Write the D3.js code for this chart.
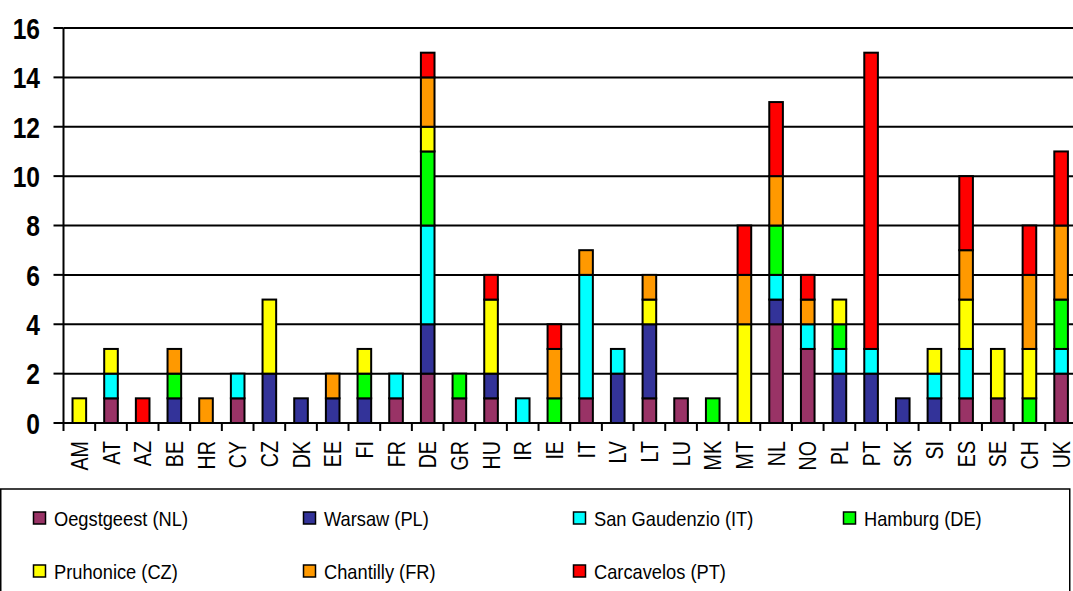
<!DOCTYPE html>
<html>
<head>
<meta charset="utf-8">
<script src="https://cdn.jsdelivr.net/npm/d3@7"></script>
<style>
  html, body { margin: 0; padding: 0; background: #fff; }
  svg { display: block; }
  text { font-family: "Liberation Sans", Arial, sans-serif; fill: #000; }
</style>
</head>
<body>
<svg id="chart" width="1073" height="591"></svg>
<script>
// Country codes along the x axis
const categories = ["AM","AT","AZ","BE","HR","CY","CZ","DK","EE","FI","FR","DE","GR","HU","IR","IE",
                    "IT","LV","LT","LU","MK","MT","NL","NO","PL","PT","SK","SI","ES","SE","CH","UK"];

// Counts per location, one value per country (stacked bottom to top in this order)
const oegstgeest   = [0,1,0,0,0,1,0,0,0,0,1,2,1,1,0,0,1,0,1,1,0,0,4,3,0,0,0,0,1,1,0,2];
const warsaw       = [0,0,0,1,0,0,2,1,1,1,0,2,0,1,0,0,0,2,3,0,0,0,1,0,2,2,1,1,0,0,0,0];
const sanGaudenzio = [0,1,0,0,0,1,0,0,0,0,1,4,0,0,1,0,5,1,0,0,0,0,1,1,1,1,0,1,2,0,0,1];
const hamburg      = [0,0,0,1,0,0,0,0,0,1,0,3,1,0,0,1,0,0,0,0,1,0,2,0,1,0,0,0,0,0,1,2];
const pruhonice    = [1,1,0,0,0,0,3,0,0,1,0,1,0,3,0,0,0,0,1,0,0,4,0,0,1,0,0,1,2,2,2,0];
const chantilly    = [0,0,0,1,1,0,0,0,1,0,0,2,0,0,0,2,1,0,1,0,0,2,2,1,0,0,0,0,2,0,3,3];
const carcavelos   = [0,0,1,0,0,0,0,0,0,0,0,1,0,1,0,1,0,0,0,0,0,2,3,1,0,12,0,0,3,0,2,3];

const seriesNames  = ["Oegstgeest (NL)","Warsaw (PL)","San Gaudenzio (IT)","Hamburg (DE)",
                      "Pruhonice (CZ)","Chantilly (FR)","Carcavelos (PT)"];
const seriesValues = [oegstgeest, warsaw, sanGaudenzio, hamburg, pruhonice, chantilly, carcavelos];
const seriesColors = ["#993366","#333399","#00FFFF","#00FF00","#FFFF00","#FF9900","#FF0000"];

const yTicks = [0,2,4,6,8,10,12,14,16];

// Build a row-per-country table for d3.stack
const keys = seriesNames;
const table = categories.map((c, i) => {
  const row = { country: c };
  keys.forEach((k, j) => { row[k] = seriesValues[j][i]; });
  return row;
});
const stacked = d3.stack().keys(keys)(table);

const svg = d3.select("#chart");

// Plot geometry
const plotLeft = 63.5, plotTop = 28, plotBottom = 423;
const step = 31.67;
const plotRight = plotLeft + step * categories.length;

const x = d3.scaleBand().domain(categories).range([plotLeft, plotRight]).padding(0);
const y = d3.scaleLinear().domain([0, 16]).range([plotBottom, plotTop]);
const barW = x.bandwidth() * 0.43;
const narrow = 0.82;

// Horizontal gridlines
svg.append("g")
  .selectAll("line")
  .data(yTicks)
  .join("line")
  .attr("x1", plotLeft).attr("x2", plotRight)
  .attr("y1", d => y(d)).attr("y2", d => y(d))
  .attr("stroke", "#000").attr("stroke-width", 2);

// Y axis: line, outward ticks and labels
const yAxis = svg.append("g");
yAxis.append("line")
  .attr("x1", plotLeft).attr("x2", plotLeft)
  .attr("y1", y(16)).attr("y2", y(0) + 8)
  .attr("stroke", "#000").attr("stroke-width", 2);
yAxis.selectAll("line.tick")
  .data(yTicks)
  .join("line").attr("class", "tick")
  .attr("x1", plotLeft - 10).attr("x2", plotLeft)
  .attr("y1", d => y(d)).attr("y2", d => y(d))
  .attr("stroke", "#000").attr("stroke-width", 2);
yAxis.selectAll("text")
  .data(yTicks)
  .join("text")
  .attr("transform", d => `translate(40,${y(d)}) scale(${narrow},1)`)
  .attr("text-anchor", "end")
  .attr("dy", "0.36em")
  .attr("font-size", 30)
  .attr("font-weight", "bold")
  .text(d => d);

// X axis: ticks between categories and rotated labels
const xAxis = svg.append("g");
xAxis.selectAll("line")
  .data(d3.range(1, categories.length + 1))
  .join("line")
  .attr("x1", i => plotLeft + i * x.step()).attr("x2", i => plotLeft + i * x.step())
  .attr("y1", plotBottom).attr("y2", plotBottom + 8)
  .attr("stroke", "#000").attr("stroke-width", 2);
xAxis.selectAll("text")
  .data(categories)
  .join("text")
  .attr("transform", d => `translate(${x(d) + x.bandwidth() / 2 + 8.5},441) rotate(-90) scale(${narrow},1)`)
  .attr("text-anchor", "end")
  .attr("font-size", 24)
  .text(d => d);

// Stacked bars
svg.append("g")
  .selectAll("g")
  .data(stacked)
  .join("g")
  .attr("fill", (d, i) => seriesColors[i])
  .selectAll("rect")
  .data(d => d.filter(s => s[1] - s[0] > 0))
  .join("rect")
  .attr("x", d => x(d.data.country) + (x.bandwidth() - barW) / 2)
  .attr("width", barW)
  .attr("y", d => y(d[1]))
  .attr("height", d => y(d[0]) - y(d[1]))
  .attr("stroke", "#000").attr("stroke-width", 2);

// Legend box
svg.append("rect")
  .attr("x", 0.75).attr("y", 489)
  .attr("width", 1069).attr("height", 120)
  .attr("fill", "none").attr("stroke", "#000").attr("stroke-width", 1.5);

const legend = svg.append("g")
  .selectAll("g")
  .data(seriesNames)
  .join("g")
  .attr("transform", (d, i) => `translate(${33 + (i % 4) * 270},${i < 4 ? 518.5 : 571.5})`);
legend.append("rect")
  .attr("x", 0.5).attr("y", -6.5).attr("width", 12).attr("height", 12)
  .attr("fill", (d, i) => seriesColors[i])
  .attr("stroke", "#000").attr("stroke-width", 1.5);
legend.append("text")
  .attr("transform", `translate(21,0) scale(${0.87},1)`)
  .attr("dy", "0.36em")
  .attr("font-size", 21)
  .text(d => d);
</script>
</body>
</html>
